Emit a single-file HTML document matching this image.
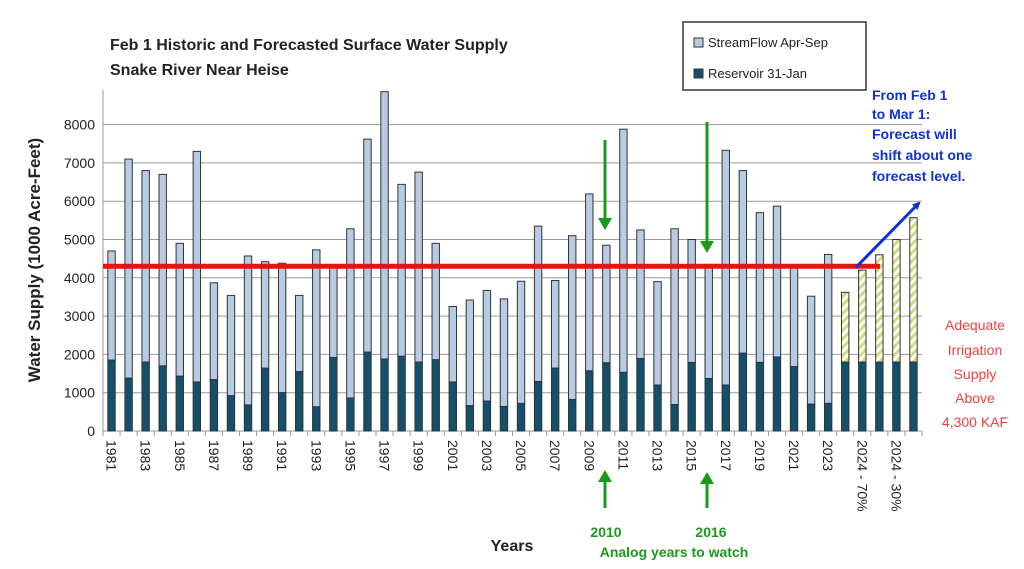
<!DOCTYPE html>
<html><head><meta charset="utf-8"><style>
html,body{margin:0;padding:0;background:#fff;}
svg{display:block;font-family:"Liberation Sans",sans-serif;}
</style></head><body>
<svg id="s" width="1024" height="569" viewBox="0 0 1024 569" xmlns="http://www.w3.org/2000/svg">
<defs>
<pattern id="hatch" width="6" height="6" patternUnits="userSpaceOnUse" patternTransform="rotate(-45)">
<rect width="6" height="6" fill="#fff"/><rect width="6" height="3" fill="#c8e07a"/>
</pattern>
<marker id="ab" markerWidth="8" markerHeight="8" refX="6" refY="4" orient="auto" markerUnits="userSpaceOnUse"><path d="M0,0 L8,4 L0,8z" fill="#1030d0"/></marker>
</defs>
<g id="g"></g>
<text x="110" y="50" font-size="16" font-weight="bold" fill="#222">Feb 1 Historic and Forecasted Surface Water Supply</text>
<text x="110" y="75" font-size="16" font-weight="bold" fill="#222">Snake River Near Heise</text>
<rect x="683" y="22" width="183" height="68" fill="#fff" stroke="#333" stroke-width="1.5"/>
<rect x="694" y="38" width="9" height="9" fill="#b8cbe4" stroke="#333"/>
<text x="708" y="47" font-size="13" fill="#222">StreamFlow Apr-Sep</text>
<rect x="694" y="69" width="9" height="9" fill="#12506e" stroke="#333"/>
<text x="708" y="78" font-size="13" fill="#222">Reservoir 31-Jan</text>
<text transform="translate(40,260) rotate(-90)" text-anchor="middle" font-size="17" font-weight="bold" fill="#222">Water Supply (1000 Acre-Feet)</text>
<text x="512" y="551" text-anchor="middle" font-size="16" font-weight="bold" fill="#222">Years</text>
<g font-size="14" font-weight="bold" fill="#1030d0">
<text x="872" y="100">From Feb 1</text><text x="872" y="119">to Mar 1:</text>
<text x="872" y="139">Forecast will</text><text x="872" y="160">shift about one</text>
<text x="872" y="181">forecast level.</text></g>
<g font-size="14" fill="#f04040" text-anchor="middle">
<text x="975" y="330">Adequate</text><text x="975" y="355">Irrigation</text>
<text x="975" y="379">Supply</text><text x="975" y="403">Above</text><text x="975" y="427">4,300 KAF</text></g>
<g font-size="14" font-weight="bold" fill="#1a9a1a" text-anchor="middle">
<text x="606" y="537">2010</text><text x="711" y="537">2016</text>
<text x="674" y="557">Analog years to watch</text></g>
<g stroke="#1a9a1a" stroke-width="3" fill="#1a9a1a">
<line x1="605" y1="140" x2="605" y2="220"/><path d="M598,218 L612,218 L605,230z" stroke="none"/>
<line x1="707" y1="122" x2="707" y2="243"/><path d="M700,241 L714,241 L707,253z" stroke="none"/>
<line x1="605" y1="508" x2="605" y2="480"/><path d="M598,482 L612,482 L605,470z" stroke="none"/>
<line x1="707" y1="508" x2="707" y2="482"/><path d="M700,484 L714,484 L707,472z" stroke="none"/>
</g>
</svg>
<script>
var tot=[4700,7100,6800,6700,4900,7300,3870,3540,4570,4420,4380,3540,4730,4300,5280,7620,8860,6440,6760,4900,3250,3420,3670,3450,3910,5350,3930,5100,6190,4850,7880,5250,3900,5280,5000,4350,7330,6800,5700,5870,4280,3520,4610,3620,4200,4600,5000,5570];
var res=[1850,1380,1800,1700,1430,1280,1340,920,680,1640,1000,1550,630,1920,860,2060,1880,1950,1800,1860,1280,660,780,640,720,1290,1640,820,1570,1780,1530,1890,1200,690,1790,1370,1200,2030,1790,1930,1680,700,720,1800,1800,1800,1800,1800];
var x0=103,x1=922,y0=431,k=38.3/1000,n=48,w=(x1-x0)/n,h='';
for(var v=1000;v<=8000;v+=1000){var y=y0-v*k;h+='<line x1="'+x0+'" x2="'+x1+'" y1="'+y+'" y2="'+y+'" stroke="#999" stroke-width="1"/>';}
for(var v=0;v<=8000;v+=1000){h+='<text x="95" y="'+(y0-v*k+5)+'" text-anchor="end" font-size="14" fill="#222">'+v+'</text>';}
h+='<line x1="'+x0+'" x2="'+x0+'" y1="90" y2="'+y0+'" stroke="#999"/>';
h+='<line x1="'+x0+'" x2="'+x1+'" y1="'+y0+'" y2="'+y0+'" stroke="#999"/>';
for(var i=0;i<=n;i++){var x=x0+i*w;h+='<line x1="'+x+'" x2="'+x+'" y1="'+y0+'" y2="'+(y0+5)+'" stroke="#999"/>';}
for(var i=0;i<n;i++){var cx=x0+(i+0.5)*w,bx=cx-3.7,bw=7.4;
var yt=y0-tot[i]*k,yr=y0-res[i]*k;
h+='<rect x="'+bx+'" y="'+yt+'" width="'+bw+'" height="'+(yr-yt)+'" fill="'+(i>=43?'url(#hatch)':'#b8cbe4')+'" stroke="#333" stroke-width="1"/>';
h+='<rect x="'+bx+'" y="'+yr+'" width="'+bw+'" height="'+(y0-yr)+'" fill="#12506e" stroke="#333" stroke-width="1"/>';
if(i%2==0){var lab=i<43?String(1981+i):(i==44?'2024 - 70%':'2024 - 30%');
h+='<text transform="translate('+(cx-5)+','+(y0+9)+') rotate(90)" font-size="14" fill="#222">'+lab+'</text>';}}
var ry=y0-4300*k;
h+='<line x1="103" x2="880" y1="'+ry+'" y2="'+ry+'" stroke="#f01010" stroke-width="5"/>';
h+='<line x1="856" y1="'+(ry+1)+'" x2="919" y2="203" stroke="#1030d0" stroke-width="3" marker-end="url(#ab)"/>';
document.getElementById('g').innerHTML=h;
</script>
</body></html>
